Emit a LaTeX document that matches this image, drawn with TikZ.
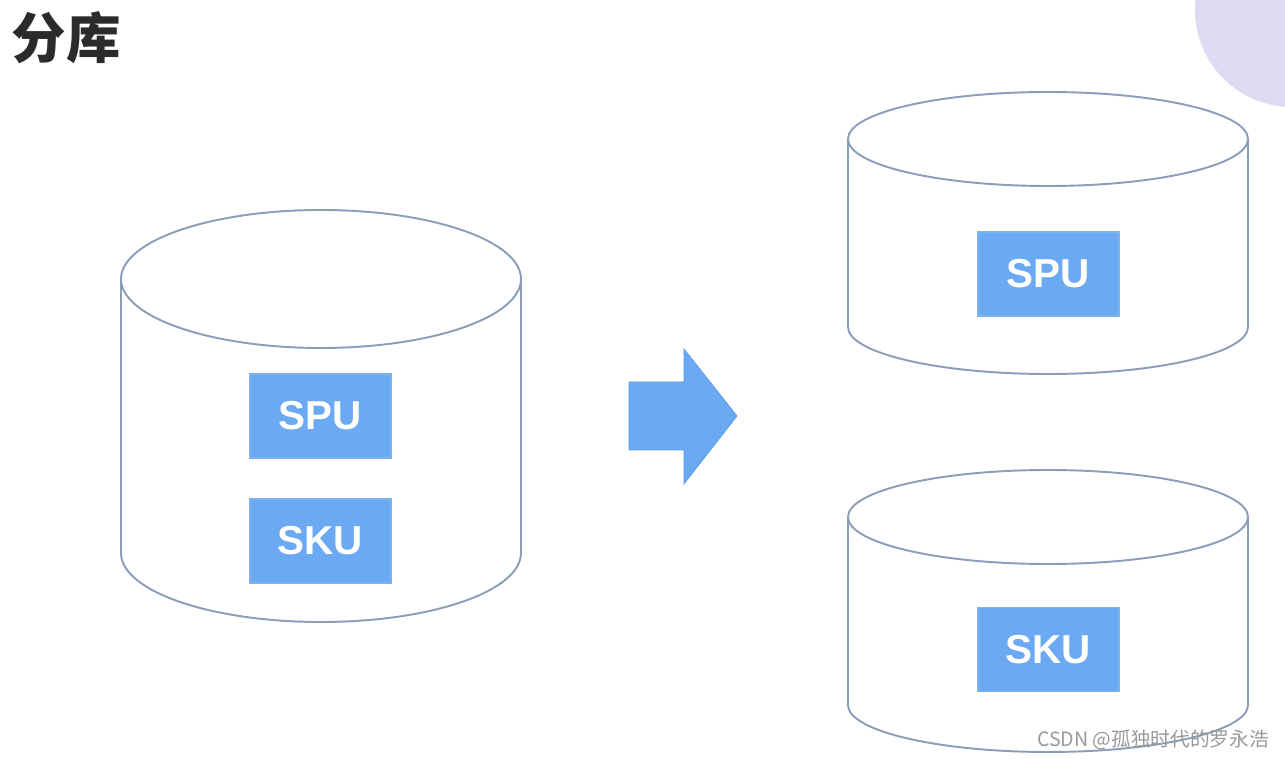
\documentclass[tikz,border=0pt]{standalone}
\usepackage{fontspec}
\setmainfont{Liberation Sans}
\newfontfamily\cjk{Noto Sans CJK SC}
\usetikzlibrary{positioning}

\definecolor{cylline}{HTML}{8C9DB8}
\definecolor{boxblue}{HTML}{6BA9F2}
\definecolor{boxedge}{HTML}{7DB2EE}
\definecolor{arrowedge}{HTML}{5C9CE6}
\definecolor{lilac}{HTML}{DFDAF1}
\definecolor{titlegray}{HTML}{2B2B2B}

\begin{document}
\begin{tikzpicture}[x=0.02cm,y=-0.02cm]
\tikzstyle{dbline}=[draw=cylline,line width=1.1pt]
\tikzstyle{tbox}=[fill=boxblue,draw=boxedge,line width=0.6pt,minimum width=2.82cm,minimum height=1.68cm,inner sep=0pt,text=white,font=\fontsize{23}{23}\selectfont\bfseries]

\useasboundingbox (0,0) rectangle (1285,759);
\begin{scope}
    \clip (0,0) rectangle (1285,759);
    \fill[lilac] (1292,10) circle (97);
\end{scope}

\node[text=titlegray,inner sep=0pt] (title) at (66,38) {\cjk\bfseries\fontsize{31}{31}\selectfont 分库};

% left database
\draw[dbline] (321,279) ellipse [x radius=200, y radius=69];
\draw[dbline] (121,279) -- (121,553) arc[start angle=180, end angle=0, x radius=200, y radius=69] -- (521,279);
\node[tbox] (spuL) at (320.5,416) {SPU};
\node[tbox] (skuL) at (320.5,541) {SKU};

% arrow
\fill[boxblue,draw=arrowedge,line width=0.4pt] (629,382) -- (684,382) -- (684,349) -- (737,416) -- (684,484) -- (684,450) -- (629,450) -- cycle;

% right databases
\foreach \t/\b in {139/327,517/705}
{
    \draw[dbline] (1048,\t) ellipse [x radius=200, y radius=47];
    \draw[dbline] (848,\t) -- (848,\b) arc[start angle=180, end angle=0, x radius=200, y radius=47] -- (1248,\t);
}
\node[tbox] (spuR) at (1048.5,274) {SPU};
\node[tbox] (skuR) at (1048.5,649.5) {SKU};

\node[text=gray!80,inner sep=0pt] (mark) at (1153,740) {\cjk\fontsize{11.2}{11.2}\selectfont CSDN @孤独时代的罗永浩};
\end{tikzpicture}
\end{document}
